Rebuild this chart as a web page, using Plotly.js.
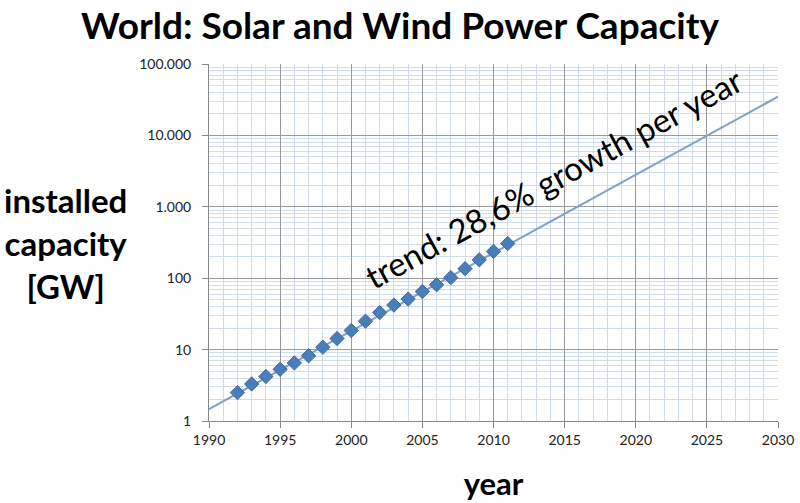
<!DOCTYPE html>
<html>
<head>
<meta charset="utf-8">
<script src="https://cdn.plot.ly/plotly-3.0.1.min.js"></script>
<style>html,body{margin:0;padding:0;background:#fff;}#chart{width:800px;height:503px;}</style>
</head>
<body>
<div id="chart"></div>
<script>
// Data
const years = [1992,1993,1994,1995,1996,1997,1998,1999,2000,2001,2002,2003,2004,2005,2006,2007,2008,2009,2010,2011];
const capacityGW = [2.5,3.3,4.2,5.3,6.5,8.2,10.8,14.3,18.5,25,33,42,51,65,81,102,136,181,237,306];
const trendYears = [1990, 2030];
const trendGW = [1.47, 34800];
const xTickVals = [1990,1995,2000,2005,2010,2015,2020,2025,2030];
const yTickVals = [1,10,100,1000,10000,100000];
const yTickText = ['1','10','100','1.000','10.000','100.000'];

const font = 'Lato, "Open Sans", "DejaVu Sans", sans-serif';

const traces = [
  {
    x: trendYears, y: trendGW, type: 'scatter', mode: 'lines',
    line: {color: '#7f9fc8', width: 2},
    hoverinfo: 'skip', showlegend: false
  },
  {
    x: years, y: capacityGW, type: 'scatter', mode: 'markers',
    marker: {symbol: 'diamond', size: 11, color: '#4a7ebb', line: {color: '#3b6aa3', width: 1}},
    showlegend: false
  }
];

const layout = {
  width: 800, height: 503,
  margin: {l: 209, r: 22, t: 63.5, b: 82},
  paper_bgcolor: '#fff', plot_bgcolor: '#fff',
  font: {family: font, color: '#111'},
  title: {text: '<b>World: Solar and Wind Power Capacity</b>', x: 0.5, xanchor: 'center', y: 0.949, yanchor: 'middle',
          font: {family: font, size: 37, color: '#000'}},
  xaxis: {
    range: [1990, 2030], tickvals: xTickVals, ticks: 'outside', ticklen: 6, tickcolor: '#888',
    showline: true, linecolor: '#888', linewidth: 1,
    showgrid: true, gridcolor: '#9a9a9a', gridwidth: 1,
    minor: {dtick: 1, showgrid: true, gridcolor: '#d0dcea', gridwidth: 1},
    tickfont: {family: font, size: 14, color: '#222'}, zeroline: false,
    title: {text: '<b>year</b>', font: {family: font, size: 31, color: '#000'}, standoff: 26}
  },
  yaxis: {
    type: 'log', range: [0, 5], tickvals: yTickVals, ticktext: yTickText,
    ticks: 'outside', ticklen: 6, tickcolor: '#888', ticklabelstandoff: 8,
    showline: true, linecolor: '#888', linewidth: 1,
    showgrid: true, gridcolor: '#9a9a9a', gridwidth: 1,
    minor: {dtick: 'D1', showgrid: true, gridcolor: '#d0dcea', gridwidth: 1},
    tickfont: {family: font, size: 14, color: '#222'}, zeroline: false
  },
  annotations: [
    {text: '<b>installed<br>capacity<br>[GW]</b>', xref: 'paper', yref: 'paper',
     x: -0.253, y: 0.50, xanchor: 'center', yanchor: 'middle', showarrow: false, align: 'center',
     font: {family: font, size: 33, color: '#000'}},
    {text: 'trend: 28,6% growth per year', xref: 'x', yref: 'y',
     x: 2014.2, y: 3.40, xanchor: 'center', yanchor: 'middle', showarrow: false, textangle: -28.5,
     font: {family: font, size: 33, color: '#000'}}
  ]
};

Plotly.newPlot('chart', traces, layout, {staticPlot: true});
</script>
</body>
</html>
